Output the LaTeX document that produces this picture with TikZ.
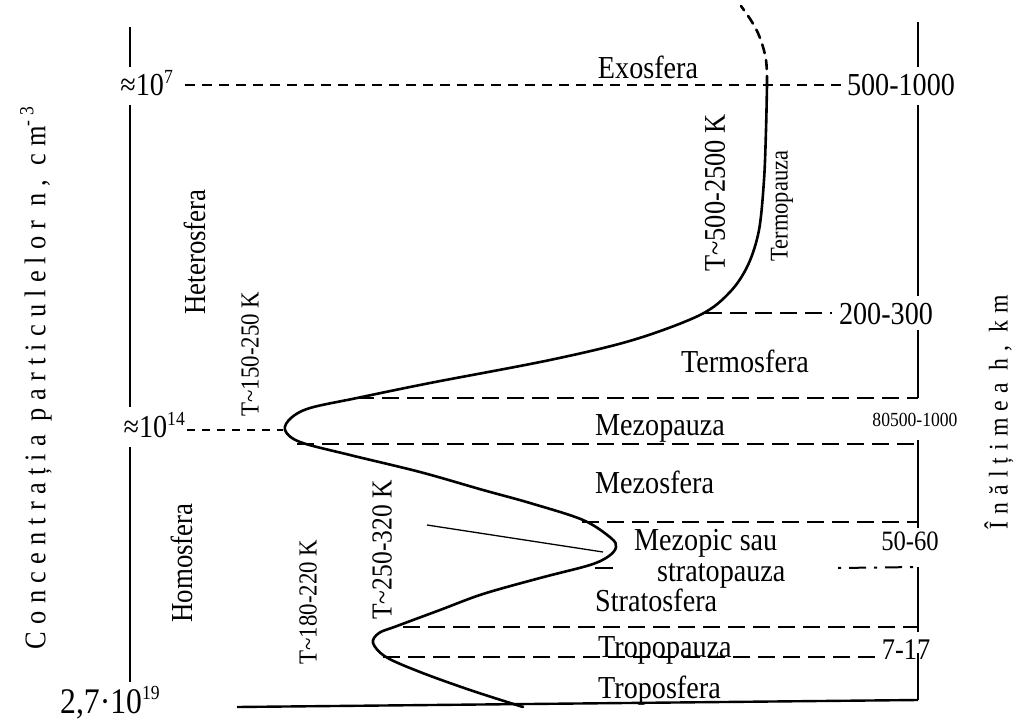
\documentclass[tikz,border=0pt]{standalone}
\usepackage{fontspec}
\setmainfont{Liberation Serif}[FakeStretch=0.88]
\newfontfamily\spacedfont[LetterSpace=24,FakeStretch=0.88]{Liberation Serif}
\newfontfamily\spacedfontb[LetterSpace=26,FakeStretch=0.88]{Liberation Serif}
\newcommand\upnum[2]{\raisebox{#2}{\fontsize{20}{20}\selectfont #1}}
\tikzset{
  axisline/.style={line width=2.4pt},
  curveline/.style={line width=2.6pt, line join=round, line cap=round},
  ldash/.style={line width=2pt, dash pattern=on 17pt off 8pt},
  sdash/.style={line width=2pt, dash pattern=on 10pt off 7pt},
  lab/.style={inner sep=0pt, font=\fontsize{32}{34}\selectfont},
  vlab/.style={inner sep=0pt, rotate=90},
}
\begin{document}
\begin{tikzpicture}[x=1pt,y=-1pt]
\useasboundingbox (0,0) rectangle (1017,722);

% ---------- left axis ----------
\coordinate (LA1) at (130,27);  \coordinate (LA2) at (130,67);
\coordinate (LA3) at (130,105); \coordinate (LA4) at (130,407);
\coordinate (LA5) at (130,447); \coordinate (LA6) at (130,682);
\draw[axisline] (LA1) -- (LA2);
\draw[axisline] (LA3) -- (LA4);
\draw[axisline] (LA5) -- (LA6);

% ---------- right axis ----------
\coordinate (RA0) at (918,22);  \coordinate (RA1) at (918,67);
\coordinate (RA2) at (918,105); \coordinate (RA3) at (918,296);
\coordinate (RA4) at (918,330); \coordinate (RA5) at (918,398);
\coordinate (RA6) at (918,440); \coordinate (RA7) at (918,528);
\coordinate (RA8) at (918,567); \coordinate (RA9) at (918,632);
\coordinate (RA10) at (918,653); \coordinate (RA11) at (918,700);
\draw[axisline] (RA0) -- (RA1);
\draw[axisline] (RA2) -- (RA3);
\draw[axisline] (RA4) -- (RA5);
\draw[axisline] (RA6) -- (RA7);
\draw[axisline] (RA8) -- (RA9);
\draw[axisline] (RA10) -- (RA11);

% bottom line
\coordinate (B0) at (237,707);
\draw[axisline] (B0) -- (RA11);

% ---------- left values ----------
\node[lab, anchor=base east] (n7) at (173,96) {≈10\upnum{7}{12pt}};
\node[lab, anchor=base east] (n14) at (185,437) {≈10\upnum{14}{12pt}};
\node[lab, anchor=base west, font=\fontsize{36}{38}\selectfont] (n19) at (60,713) {2,7·10\upnum{19}{14pt}};

% ---------- curve ----------
\draw[curveline] plot[smooth, tension=0.55] coordinates {
 (523,707) (470,690) (420,672) (386,657) (373,643) (379,633) (397,626)
 (440,610) (483,594) (540,578) (590,565) (609,556) (616,547) (611,538)
 (583,520) (530,503) (483,490) (420,472) (350,455) (300,442) (285,430)
 (291,418) (310,408) (357,398) (430,383) (550,360) (633,340) (700,315)
 (730,292) (748,265) (759,230) (764,180) (766,130) (767,85)};
\draw[curveline, dash pattern=on 9pt off 7pt] plot[smooth, tension=0.6] coordinates {
 (767,85) (766,60) (760,38) (752,22) (741,6)};
\coordinate (top) at (767,85);

% ---------- dashed level lines ----------
\coordinate (d7a) at (185,85);   \coordinate (d7b) at (845,85);
\draw[sdash] (d7a) -- (d7b);
\coordinate (d14a) at (187,430); \coordinate (d14b) at (283,430);
\draw[line width=2pt, dash pattern=on 8pt off 7pt] (d14a) -- (d14b);
\coordinate (h1a) at (705,313);  \coordinate (h1b) at (832,313);
\draw[ldash] (h1a) -- (h1b);
\coordinate (h2a) at (357,398);
\draw[ldash] (h2a) -- (RA5);
\coordinate (h3a) at (297,444);  \coordinate (h3b) at (918,444);
\draw[ldash] (h3a) -- (h3b);
\coordinate (h4a) at (582,522);  \coordinate (h4b) at (918,522);
\draw[ldash] (h4a) -- (h4b);
\coordinate (h5a) at (595,568);  \coordinate (h5b) at (613,568);
\draw[line width=2pt] (h5a) -- (h5b);
\coordinate (h5c) at (838,568);
\draw[line width=2pt, dash pattern=on 3pt off 8pt on 17pt off 8pt] (h5c) -- (RA8);
\coordinate (h6a) at (403,627);  \coordinate (h6b) at (918,627);
\draw[ldash] (h6a) -- (h6b);
\coordinate (h7a) at (383,657);  \coordinate (h7b) at (882,657);
\draw[ldash] (h7a) -- (h7b);

% thin pointer line
\coordinate (p1) at (427,525); \coordinate (p2) at (603,552);
\draw[line width=1.3pt] (p1) -- (p2);

% ---------- layer labels ----------
\node[lab] (exo) at (648,67) {Exosfera};
\node[lab] (termo) at (745,361) {Termosfera};
\node[lab, anchor=base west] (mpz) at (595,435) {Mezopauza};
\node[lab, anchor=base west] (mzs) at (595,493) {Mezosfera};
\node[lab, anchor=base west] (mzp) at (634,550) {Mezopic sau};
\node[lab, anchor=base west] (strp) at (657,581) {stratopauza};
\node[lab, anchor=base west] (strs) at (595,611) {Stratosfera};
\node[lab, anchor=base west] (trpz) at (598,657) {Tropopauza};
\node[lab, anchor=base west] (trps) at (598,698) {Troposfera};

% ---------- right values ----------
\node[lab] (v1) at (901,85) {500-1000};
\node[lab] (v2) at (886,314) {200-300};
\node[inner sep=0pt, font=\fontsize{20}{22}\selectfont] (v3) at (915,420) {80500-1000};
\node[inner sep=0pt, font=\fontsize{28}{30}\selectfont] (v4) at (910,541) {50-60};
\node[inner sep=0pt, font=\fontsize{30}{32}\selectfont] (v5) at (906,650) {7-17};

% ---------- rotated labels ----------
\node[vlab, font=\fontsize{30.5}{32}\selectfont] (het) at (195,252) {Heterosfera};
\node[vlab, font=\fontsize{30.5}{32}\selectfont] (hom) at (182,563) {Homosfera};
\node[vlab, font=\fontsize{26}{28}\selectfont] (t1) at (250,354) {T\char"007E 150-250 K};
\node[vlab, font=\fontsize{26}{28}\selectfont] (t2) at (308,602) {T\char"007E 180-220 K};
\node[vlab, font=\fontsize{29}{31}\selectfont] (t3) at (382,550) {T\char"007E 250-320 K};
\node[vlab, font=\fontsize{30}{32}\selectfont] (t4) at (715,193) {T\char"007E 500-2500 K};
\node[vlab, font=\fontsize{25.5}{27}\selectfont] (tp) at (782,206) {Termopauza};

% ---------- axis titles ----------
\node[vlab, font=\spacedfont\fontsize{30}{32}\selectfont] (ytitle) at (36,378)
  {Concentrația particulelor n, cm\raisebox{12pt}{\fontsize{20}{20}\selectfont -3}};
\node[vlab, font=\spacedfontb\fontsize{27}{29}\selectfont] (htitle) at (999,412)
  {Înălțimea h, km};
\end{tikzpicture}
\end{document}
